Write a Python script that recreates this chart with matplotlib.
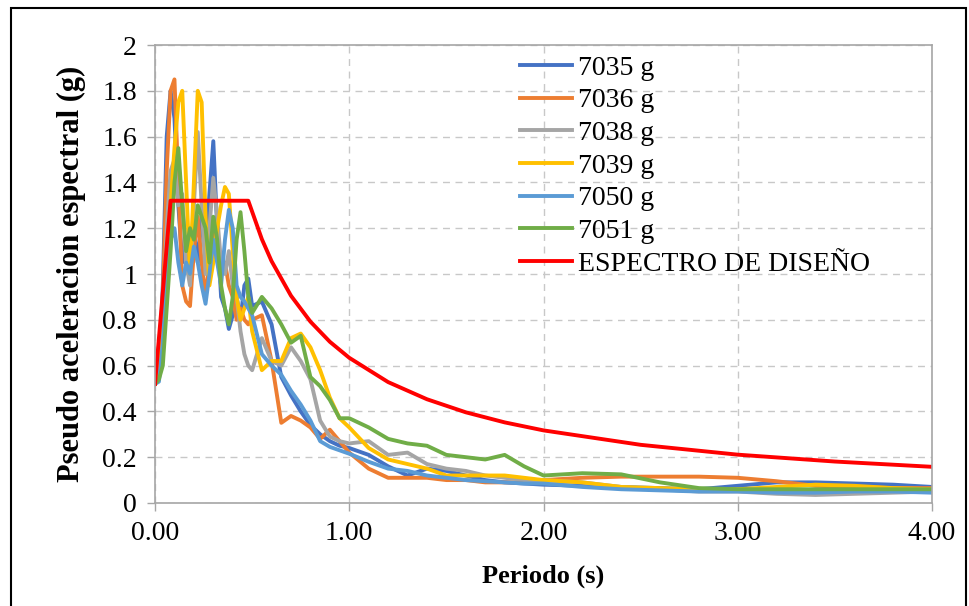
import numpy as np
import matplotlib
matplotlib.use("Agg")
import matplotlib.pyplot as plt
from matplotlib.patches import Rectangle

plt.rcParams['font.family'] = ['Liberation Serif', 'DejaVu Serif']

# periods (s)
periods = [0.00, 0.02, 0.04, 0.06, 0.08, 0.10, 0.12, 0.14, 0.16, 0.18, 0.20, 0.22, 0.24,
           0.26, 0.28, 0.30, 0.32, 0.34, 0.36, 0.38, 0.40, 0.42, 0.44, 0.46, 0.48, 0.50,
           0.55, 0.60, 0.65, 0.70, 0.75, 0.80, 0.85, 0.90, 0.95, 1.00, 1.10, 1.20, 1.30,
           1.40, 1.50, 1.60, 1.70, 1.80, 1.90, 2.00, 2.20, 2.40, 2.60, 2.80, 3.00, 3.20,
           3.40, 3.60, 3.80, 4.00]

sa_7035 = [0.52, 0.55, 0.95, 1.60, 1.80, 1.68, 1.30, 1.05, 1.15, 1.00, 1.20, 1.05, 1.25,
           1.10, 1.35, 1.58, 1.20, 0.90, 0.85, 0.76, 0.82, 0.90, 0.80, 0.95, 0.98, 0.86,
           0.88, 0.78, 0.55, 0.47, 0.40, 0.34, 0.30, 0.27, 0.25, 0.24, 0.21, 0.16, 0.12,
           0.15, 0.14, 0.12, 0.10, 0.09, 0.085, 0.08, 0.075, 0.07, 0.065, 0.06, 0.075, 0.09,
           0.09, 0.085, 0.08, 0.07]
sa_7036 = [0.52, 0.55, 0.90, 1.45, 1.80, 1.85, 1.40, 0.95, 0.88, 0.86, 1.10, 1.25, 1.05,
           0.90, 1.05, 1.20, 1.10, 1.00, 1.05, 0.95, 0.90, 0.80, 0.85, 0.80, 0.78, 0.80,
           0.82, 0.62, 0.35, 0.38, 0.36, 0.33, 0.28, 0.32, 0.27, 0.22, 0.15, 0.11, 0.11,
           0.11, 0.10, 0.10, 0.09, 0.09, 0.09, 0.10, 0.11, 0.115, 0.115, 0.115, 0.11, 0.095,
           0.075, 0.07, 0.065, 0.065]
sa_7038 = [0.52, 0.54, 0.80, 1.20, 1.45, 1.50, 1.30, 1.35, 1.05, 0.95, 1.30, 1.62, 1.30,
           1.00, 1.20, 1.42, 1.25, 1.05, 1.00, 1.10, 0.95, 0.90, 0.75, 0.65, 0.60, 0.58,
           0.72, 0.62, 0.60, 0.68, 0.62, 0.54, 0.36, 0.29, 0.27, 0.26, 0.27, 0.21, 0.22,
           0.17, 0.15, 0.14, 0.12, 0.11, 0.10, 0.10, 0.09, 0.07, 0.06, 0.05, 0.05, 0.04,
           0.035, 0.04, 0.045, 0.05]
sa_7039 = [0.52, 0.55, 0.80, 1.10, 1.30, 1.55, 1.75, 1.80, 1.40, 1.00, 1.40, 1.80, 1.75,
           1.25, 0.95, 1.05, 1.20, 1.30, 1.38, 1.35, 1.10, 0.90, 0.80, 0.85, 0.90, 0.75,
           0.58, 0.62, 0.62, 0.72, 0.74, 0.68, 0.58, 0.46, 0.37, 0.33, 0.24, 0.19, 0.17,
           0.15, 0.12, 0.12, 0.12, 0.12, 0.11, 0.10, 0.09, 0.07, 0.065, 0.06, 0.06, 0.07,
           0.08, 0.075, 0.065, 0.06]
sa_7050 = [0.52, 0.53, 0.70, 1.00, 1.15, 1.20, 1.05, 0.95, 1.05, 1.00, 1.12, 1.05, 0.95,
           0.87, 1.00, 1.15, 1.05, 0.95, 1.15, 1.28, 1.20, 0.95, 0.90, 0.88, 0.85, 0.82,
           0.65, 0.60, 0.56, 0.49, 0.43, 0.36, 0.27, 0.245, 0.23, 0.215, 0.18, 0.15, 0.14,
           0.12, 0.11, 0.10, 0.095, 0.09, 0.085, 0.085, 0.07, 0.06, 0.055, 0.05, 0.05, 0.045,
           0.045, 0.05, 0.05, 0.045]
sa_7051 = [0.52, 0.54, 0.60, 0.85, 1.10, 1.40, 1.55, 1.30, 1.10, 1.20, 1.15, 1.30, 1.25,
           1.20, 1.05, 1.25, 1.15, 0.95, 0.85, 0.78, 0.90, 1.15, 1.27, 1.10, 0.90, 0.83,
           0.90, 0.85, 0.78, 0.70, 0.73, 0.55, 0.51, 0.45, 0.37, 0.37, 0.33, 0.28, 0.26,
           0.25, 0.21, 0.20, 0.19, 0.21, 0.16, 0.12, 0.13, 0.125, 0.09, 0.065, 0.06, 0.06,
           0.06, 0.06, 0.06, 0.06]

# design spectrum
design_t = [0.00, 0.08, 0.48, 0.55, 0.60, 0.70, 0.80, 0.90, 1.00, 1.20, 1.40, 1.60,
            1.80, 2.00, 2.50, 3.00, 3.50, 4.00]
design_sa = [0.52, 1.32, 1.32, 1.152, 1.056, 0.905, 0.792, 0.704, 0.634, 0.528, 0.453,
             0.396, 0.352, 0.317, 0.254, 0.211, 0.181, 0.158]

series = [("7035 g", sa_7035, "#4472C4"),
          ("7036 g", sa_7036, "#ED7D31"),
          ("7038 g", sa_7038, "#A5A5A5"),
          ("7039 g", sa_7039, "#FFC000"),
          ("7050 g", sa_7050, "#5B9BD5"),
          ("7051 g", sa_7051, "#70AD47")]

fig = plt.figure(figsize=(9.69, 6.06), dpi=100)
ax = fig.add_axes([0.16, 0.17, 0.8018, 0.7557])

for name, vals, col in series:
    ax.plot(periods, vals, color=col, lw=2.8, label=name, solid_joinstyle='round')
ax.plot(design_t, design_sa, color="#FF0000", lw=2.8, label="ESPECTRO DE DISEÑO")

ax.set_xlim(0, 4)
ax.set_ylim(0, 2)
ax.set_xticks([0, 1, 2, 3, 4])
ax.set_xticklabels(["0.00", "1.00", "2.00", "3.00", "4.00"])
ax.set_yticks(np.arange(0, 2.01, 0.2))
ax.set_yticklabels(["0", "0.2", "0.4", "0.6", "0.8", "1", "1.2", "1.4", "1.6", "1.8", "2"])
ax.tick_params(labelsize=20, length=6, color="#a6a6a6", width=1)
ax.tick_params(axis='y', pad=7)
ax.tick_params(axis='x', pad=7)
ax.grid(True, ls=(0, (5, 4)), color="#c8c8c8", lw=1)
for s in ax.spines.values():
    s.set_color("#a6a6a6")
    s.set_linewidth(1.2)

ax.set_xlabel("Periodo (s)", fontsize=19, fontweight='bold', labelpad=13)
ax.set_ylabel("Pseudo aceleracion espectral (g)", fontsize=22, fontweight='bold', labelpad=12)

ax.legend(loc='upper left', bbox_to_anchor=(0.462, 0.99), frameon=False, fontsize=20,
          handlelength=1.9, handletextpad=0.2, labelspacing=0.26, borderpad=0.2,
          borderaxespad=0)

# outer frame
fig.patches.append(Rectangle((11 / 969, -0.02), 955 / 969, 1 - 8 / 606 + 0.02,
                             transform=fig.transFigure, fill=False, ec='black', lw=1.5))

fig.savefig("out.png", dpi=100)
